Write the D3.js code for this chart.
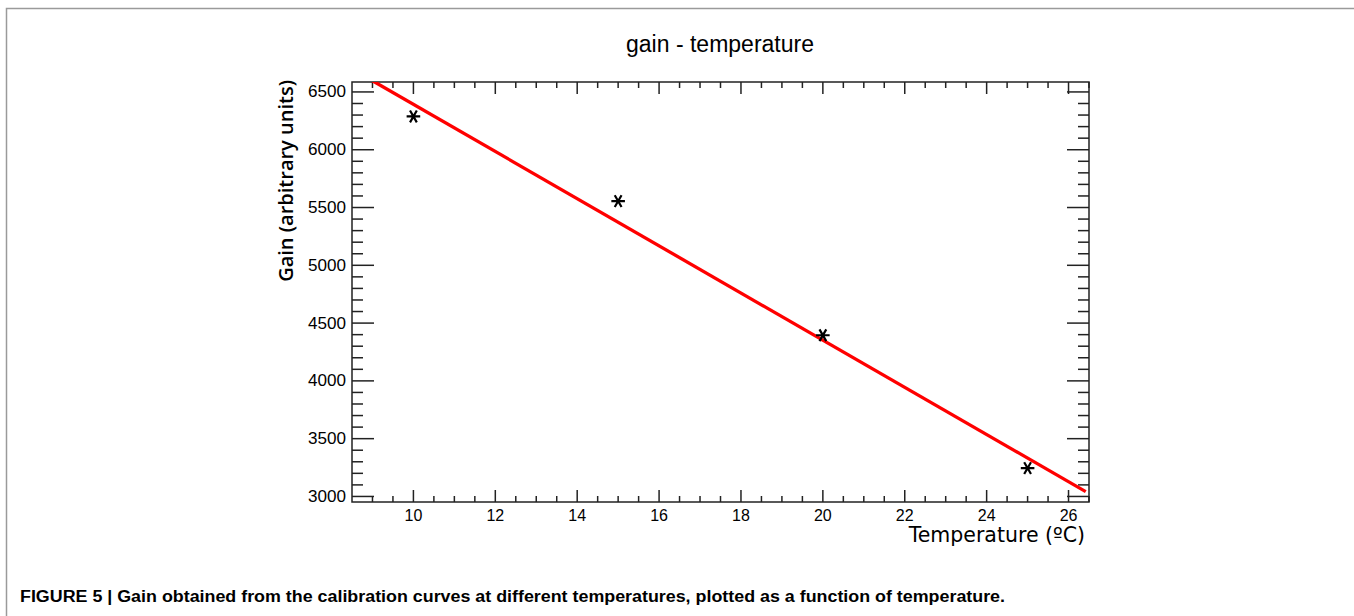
<!DOCTYPE html>
<html>
<head>
<meta charset="utf-8">
<script src="https://cdn.jsdelivr.net/npm/d3@7"></script>
<style>
  body { margin: 0; background: #fff; }
  svg { display: block; }
  .tick-label { font-family: "Liberation Sans", Arial, sans-serif; fill: #000; }
</style>
</head>
<body>
<svg id="viz" width="1354" height="616"></svg>
<script>
// data
var temperatures = [10, 15, 20, 25];           // ºC
var gains = [6288, 5555, 4395, 3245];          // arbitrary units
var fitParams = { intercept: 8434, slope: -204.1 };  // red fit line
var fitRange = [9, 26.42];
var xTickValues = [10, 12, 14, 16, 18, 20, 22, 24, 26];
var yTickValues = [3000, 3500, 4000, 4500, 5000, 5500, 6000, 6500];

(function () {
    'use strict';
    var svg = d3.select("#viz");
    var frame = { left: 352, right: 1089, top: 82, bottom: 502 }; //PLOT FRAME

    // outer figure border
    svg.append("rect")
        .attr("x", 6.5).attr("y", 8.5)
        .attr("width", 1360).attr("height", 640)
        .attr("fill", "none").attr("stroke", "#9a9a9a").attr("stroke-width", 1.5);

    var xScale = d3.scaleLinear().domain([8.5, 26.5]).range([frame.left, frame.right]),
        yScale = d3.scaleLinear().domain([2952, 6586]).range([frame.bottom, frame.top]);

    // title
    svg.append("text")
        .attr("x", 720).attr("y", 52)
        .attr("text-anchor", "middle")
        .style("font-family", "Liberation Sans, Arial, sans-serif")
        .style("font-size", "23px")
        .text("gain - temperature");

    //TICKS, drawn inward like ROOT does
    var g = svg.append("g");
    var xMinor = d3.range(9, 26.51, 0.5).filter(function (v) { return v % 2 !== 0; });
    var yMinor = d3.range(3000, 6590, 100).filter(function (v) { return v % 500 !== 0; });

    function hTicks(vals, len) {
        vals.forEach(function (v) {
            var x = xScale(v);
            g.append("line").attr("x1", x).attr("x2", x)
                .attr("y1", frame.bottom).attr("y2", frame.bottom - len);
            g.append("line").attr("x1", x).attr("x2", x)
                .attr("y1", frame.top).attr("y2", frame.top + len);
        });
    }
    function vTicks(vals, len) {
        vals.forEach(function (v) {
            var y = yScale(v);
            g.append("line").attr("y1", y).attr("y2", y)
                .attr("x1", frame.left).attr("x2", frame.left + len);
            g.append("line").attr("y1", y).attr("y2", y)
                .attr("x1", frame.right).attr("x2", frame.right - len);
        });
    }
    hTicks(xTickValues, 12);
    hTicks(xMinor, 6);
    vTicks(yTickValues, 22);
    vTicks(yMinor, 11);
    g.selectAll("line").attr("stroke", "#222").attr("stroke-width", 1.5);

    svg.append("rect")
        .attr("x", frame.left).attr("y", frame.top)
        .attr("width", frame.right - frame.left).attr("height", frame.bottom - frame.top)
        .attr("fill", "none").attr("stroke", "#222").attr("stroke-width", 1.5);

    // tick labels
    svg.selectAll(".xlab").data(xTickValues).enter()
        .append("text").attr("class", "tick-label xlab")
        .attr("x", function (d) { return xScale(d); })
        .attr("y", 521)
        .attr("text-anchor", "middle")
        .style("font-size", "16px")
        .text(function (d) { return d; });
    svg.selectAll(".ylab").data(yTickValues).enter()
        .append("text").attr("class", "tick-label ylab")
        .attr("x", 346)
        .attr("y", function (d) { return yScale(d) + 5.5; })
        .attr("text-anchor", "end")
        .style("font-size", "16px")
        .attr("textLength", 38)
        .attr("lengthAdjust", "spacingAndGlyphs")
        .text(function (d) { return d; });

    // axis titles
    svg.append("text")
        .attr("transform", "translate(293,80) rotate(-90)")
        .attr("text-anchor", "end")
        .style("font-family", "Open Sans, sans-serif")
        .style("font-size", "20px")
        .style("font-weight", "600")
        .text("Gain (arbitrary units)");
    svg.append("text")
        .attr("x", 1085).attr("y", 542)
        .attr("text-anchor", "end")
        .style("font-family", "DejaVu Sans, sans-serif")
        .style("font-size", "20.5px")
        .text("Temperature (ºC)");

    //FIT LINE
    svg.append("clipPath").attr("id", "clip")
        .append("rect")
        .attr("x", frame.left).attr("y", frame.top)
        .attr("width", frame.right - frame.left).attr("height", frame.bottom - frame.top);
    var fit = fitRange.map(function (x) { return [x, fitParams.intercept + fitParams.slope * x]; });
    svg.append("path")
        .datum(fit)
        .attr("clip-path", "url(#clip)")
        .attr("fill", "none").attr("stroke", "#ff0000").attr("stroke-width", 3.3)
        .attr("d", d3.line()
            .x(function (d) { return xScale(d[0]); })
            .y(function (d) { return yScale(d[1]); }));

    // markers
    var star = d3.symbol().type(d3.symbolAsterisk).size(130);
    svg.selectAll(".pt").data(temperatures).enter()
        .append("path").attr("class", "pt")
        .attr("d", star)
        .attr("transform", function (d, i) {
            return "translate(" + xScale(d) + "," + yScale(gains[i]) + ") rotate(90)";
        })
        .attr("fill", "none").attr("stroke", "#000").attr("stroke-width", 2.2);

    // caption
    svg.append("text")
        .attr("x", 20).attr("y", 602)
        .style("font-family", "Liberation Sans Narrow, Liberation Sans, Arial, sans-serif")
        .style("font-weight", "bold")
        .style("font-size", "16px")
        .attr("textLength", 985)
        .attr("lengthAdjust", "spacingAndGlyphs")
        .text("FIGURE 5 | Gain obtained from the calibration curves at different temperatures, plotted as a function of temperature.");
}());
</script>
</body>
</html>
